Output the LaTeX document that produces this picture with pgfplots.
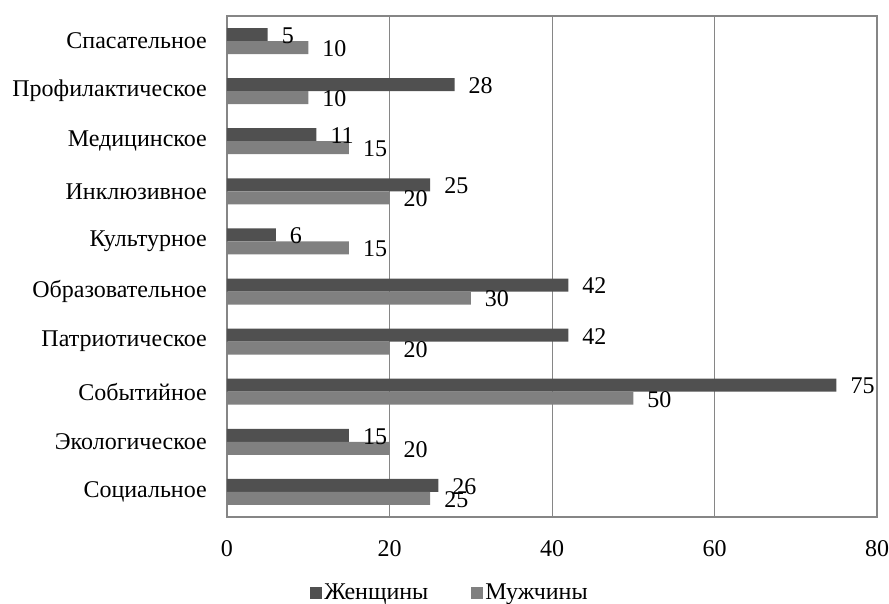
\documentclass[border=0pt]{standalone}
\usepackage{fontspec}
\setmainfont{Liberation Serif}
\usepackage{pgfplots}
\pgfplotsset{compat=1.18}
\definecolor{darkbar}{RGB}{80,80,80}
\definecolor{lightbar}{RGB}{128,128,128}
\definecolor{gridc}{RGB}{134,134,134}
\begin{document}
\fontsize{24pt}{28pt}\selectfont
\begin{tikzpicture}
\path[use as bounding box] (0,0) rectangle (889pt,604pt);
\begin{axis}[
  at={(227pt,87pt)}, anchor=south west,
  scale only axis, width=650pt, height=501pt,
  xbar, bar width=13pt,
  xmin=0, xmax=80, ymin=-0.5, ymax=9.5,
  xtick={0,20,40,60,80},
  ytick={0,1,2,3,4,5,6,7,8,9},
  yticklabels={Социальное,Экологическое,Событийное,Патриотическое,Образовательное,Культурное,Инклюзивное,Медицинское,Профилактическое,Спасательное},
  major tick length=0pt,
  xmajorgrids=true,
  grid style={gridc, line width=1pt},
  axis line style={gridc, line width=1.5pt},
  /pgf/number format/assume math mode=true,
  tick label style={font=\fontsize{24pt}{28pt}\selectfont},
  yticklabel style={anchor=east, xshift=-20pt, inner sep=0pt},
  xticklabel style={anchor=north, yshift=-23pt, inner sep=0pt},
  nodes near coords,
  every node near coord/.append style={font=\fontsize{24pt}{28pt}\selectfont, anchor=west, inner sep=0pt, xshift=14pt, yshift=-1pt},
  legend style={at={(0.343,-0.152)}, anchor=center, draw=none, legend columns=2,
    font=\fontsize{24pt}{28pt}\selectfont,
    /tikz/every even column/.append style={column sep=41pt}},
  legend image code/.code={\fill[#1] (0pt,-6pt) rectangle (12pt,6pt);},
  clip=false,
]
\addplot[fill=darkbar, draw=none, bar shift=6.5pt] coordinates {
  (26,0) (15,1) (75,2) (42,3) (42,4) (6,5) (25,6) (11,7) (28,8) (5,9)};
\addplot[fill=lightbar, draw=none, bar shift=-6.5pt] coordinates {
  (25,0) (20,1) (50,2) (20,3) (30,4) (15,5) (20,6) (15,7) (10,8) (10,9)};
\legend{Женщины,Мужчины}
\end{axis}
\end{tikzpicture}
\end{document}
